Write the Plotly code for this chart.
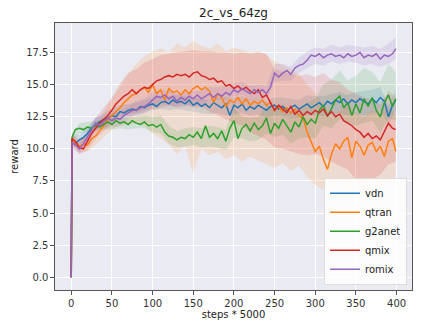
import plotly.graph_objects as go

# x: training steps (in units of 5000 env steps)
steps = [0, 1] + list(range(5, 400, 5)) + [399]
band_steps = [0, 1] + list(range(10, 400, 10)) + [399]

# mean reward per algorithm
vdn = [0, 10.6,
       10.4, 10.7, 10.9, 11.2, 11.6, 11.9, 12.1, 12.3, 12.4, 12.6,
       12.5, 12.9, 12.8, 13.0, 13.1, 13.0, 13.3, 13.2, 13.4, 13.5,
       13.3, 13.6, 13.7, 13.5, 13.8, 13.6, 13.7, 13.5, 13.8, 13.4,
       13.6, 13.3, 13.5, 13.2, 13.6, 13.4, 13.2, 13.5, 12.6, 13.4,
       13.2, 13.5, 13.0, 13.3, 13.1, 13.4, 13.2, 13.0, 13.3, 13.4,
       13.1, 13.3, 13.0, 13.2, 13.4, 13.1, 13.3, 13.5, 13.2, 13.4,
       13.6, 13.3, 13.7, 13.5, 13.8, 13.6, 13.9, 13.5, 13.8, 13.6,
       13.9, 13.7, 13.5, 13.9, 13.6, 14.0, 13.7, 12.5, 13.4,
       13.8]
qtran = [0, 10.6,
         10.5, 10.2, 10.4, 10.3, 10.8, 11.0, 11.4, 11.8, 12.3, 12.6,
         12.9, 13.2, 13.6, 13.9, 14.2, 14.3, 14.6, 14.8, 14.4, 15.0,
         14.3, 14.6, 13.8, 14.7, 14.4, 14.5, 14.2, 14.6, 14.3, 14.7,
         14.9, 14.6, 14.8, 14.5, 13.6, 14.3, 14.0, 13.3, 13.8, 13.6,
         14.0, 13.5, 13.9, 13.4, 13.7, 13.5, 13.8, 13.4, 13.6, 13.0,
         13.3, 12.9, 13.2, 12.8, 13.1, 12.6, 12.4, 11.3, 10.6, 9.8,
         10.2, 9.2, 8.4, 9.6, 10.4, 10.0, 10.6, 10.9, 9.3, 10.6,
         10.2, 9.5, 10.3, 10.5, 9.8, 10.2, 9.4, 10.6, 10.8,
         9.8]
g2anet = [0, 10.9,
          11.5, 11.6, 11.5, 11.7, 11.6, 11.8, 11.7, 11.9, 12.1, 11.9,
          12.2, 12.0, 12.1, 11.9, 12.2, 12.0, 11.9, 12.1, 11.8, 11.9,
          11.7, 11.9, 11.3, 11.0, 10.9, 10.7, 10.9, 10.8, 11.1, 10.9,
          11.3, 10.8, 11.8, 10.9, 11.2, 10.8, 11.4, 10.6, 11.6, 12.2,
          10.8, 11.6, 11.9, 11.4, 12.0, 11.5, 11.8, 12.4, 11.2, 12.0,
          11.6, 12.3, 11.8, 11.3, 12.1, 11.7, 12.5, 11.9, 12.3, 12.0,
          13.0, 13.4, 12.5, 13.1, 13.8, 14.1, 13.2, 13.6, 12.6, 13.5,
          12.8, 13.9, 13.3, 14.0, 13.0, 12.5, 13.6, 14.2, 13.3,
          13.9]
qmix = [0, 10.8,
        10.6, 10.1, 10.0, 10.6, 11.2, 11.6, 12.0, 12.3, 12.6, 13.0,
        13.5, 13.8, 14.1, 14.3, 14.6, 14.3, 14.6, 14.8, 14.7, 15.0,
        15.3, 15.4, 15.6, 15.7, 15.6, 15.8, 15.7, 15.8, 15.6, 15.9,
        16.0, 15.7, 15.6, 15.4, 15.5, 15.2, 15.3, 14.9, 15.0, 14.7,
        14.9, 14.6, 14.8, 14.5, 14.3, 14.6, 14.0, 14.2, 13.6, 13.0,
        13.4, 13.1, 12.8, 13.3, 12.7, 13.0, 12.6, 12.9, 12.7, 13.0,
        12.8, 13.1, 12.6, 12.9, 12.5, 12.7, 12.2, 12.0, 11.8, 11.5,
        11.3, 10.9, 11.2, 10.8, 11.0, 10.7, 11.3, 12.0, 11.6,
        11.5]
romix = [0, 10.5,
         10.3, 10.0, 10.4, 10.9, 11.5, 12.0, 11.8, 12.1, 12.4, 12.2,
         12.4, 12.3, 12.6, 12.8, 13.0, 13.0, 13.2, 13.3, 13.5, 13.8,
         14.1, 14.0, 14.2, 13.9, 14.1, 13.7, 14.0, 13.8, 14.1, 13.9,
         14.2, 13.9, 14.1, 14.3, 14.0, 14.3, 14.1, 14.4, 14.2, 14.6,
         14.4, 14.7, 14.5, 14.3, 14.6, 14.4, 14.6, 14.3, 14.8, 15.9,
         15.6, 15.9, 16.1, 15.8, 16.3, 16.5, 16.6, 16.9, 17.3, 17.2,
         17.4, 17.1, 17.3, 17.4, 17.2, 17.3, 17.1, 17.4, 17.2, 17.3,
         17.5, 17.1, 17.3, 17.2, 17.4, 17.0, 17.3, 17.2, 17.4,
         17.8]

# shaded band edges (min / max over runs)
vdn_lo = [0, 10.2,
          10.3, 10.7, 11.4, 11.8, 12.1, 12.4, 12.5, 12.6, 12.8, 13.0,
          13.1, 13.0, 13.1, 13.0, 12.9, 12.8, 12.7, 12.8, 12.6, 12.7,
          12.8, 12.6, 12.7, 12.4, 12.6, 12.5, 12.4, 12.4, 12.6, 12.6,
          12.5, 12.7, 12.8, 12.6, 12.7, 12.6, 12.8, 12.9, 11.9,
          12.9]
vdn_hi = [0, 11.0,
          11.1, 11.7, 12.4, 12.8, 13.1, 13.4, 13.5, 13.6, 13.8, 14.0,
          14.1, 14.1, 14.2, 14.1, 14.0, 13.9, 13.8, 14.0, 14.0, 14.0,
          14.1, 13.9, 14.0, 13.7, 14.0, 14.0, 13.9, 13.8, 14.2, 14.1,
          14.1, 14.3, 14.4, 14.2, 14.4, 14.5, 14.6, 14.8, 13.4,
          14.6]
qtran_lo = [0, 10.2,
            9.7, 9.8, 10.3, 10.9, 11.5, 11.8, 11.9, 12.0, 11.8, 11.2,
            10.8, 10.3, 9.6, 10.2, 8.1, 10.0, 9.5, 9.8, 9.2, 9.5,
            9.0, 9.4, 9.1, 8.8, 8.5, 8.9, 8.3, 8.7, 7.8, 7.2,
            6.8, 7.0, 7.6, 6.4, 7.3, 6.5, 7.4, 6.9, 7.5,
            7.8]
qtran_hi = [0, 11.0,
            10.8, 10.9, 11.8, 12.9, 13.9, 14.8, 15.8, 16.6, 17.2, 17.6,
            17.8, 17.5, 18.2, 17.9, 18.4, 18.0, 17.8, 18.2, 17.6, 17.9,
            17.7, 17.5, 17.6, 17.3, 16.8, 16.5, 16.2, 15.8, 15.0, 14.3,
            13.5, 12.6, 13.0, 13.4, 12.8, 12.5, 13.0, 12.7, 13.2,
            12.6]
g2anet_lo = [0, 10.6,
             11.2, 11.3, 11.4, 11.5, 11.5, 11.6, 11.5, 11.6, 11.6, 11.3,
             11.2, 10.4, 10.1, 10.2, 10.3, 10.1, 10.2, 10.1, 9.9, 10.9,
             10.8, 10.6, 10.7, 11.2, 10.9, 11.1, 10.4, 10.8, 10.9, 10.8,
             11.8, 11.6, 12.3, 11.9, 11.8, 12.0, 12.2, 11.3, 12.4,
             12.2]
g2anet_hi = [0, 11.2,
             12.0, 12.1, 12.2, 12.3, 12.4, 12.4, 12.4, 12.5, 12.6, 12.5,
             12.6, 11.8, 11.4, 11.6, 11.7, 11.6, 11.8, 11.7, 11.5, 13.2,
             12.5, 12.4, 12.5, 13.4, 13.2, 13.5, 12.9, 13.2, 13.6, 13.9,
             15.0, 15.4, 16.1, 15.3, 15.7, 16.3, 16.0, 15.2, 16.6,
             16.0]
qmix_lo = [0, 10.4,
           9.6, 9.9, 10.8, 11.4, 12.0, 12.5, 12.7, 12.8, 13.0, 13.1,
           13.2, 13.4, 13.3, 13.5, 13.2, 13.3, 12.9, 12.6, 12.3, 12.0,
           11.8, 11.3, 11.0, 10.7, 10.1, 10.0, 9.8, 9.6, 9.5, 9.6,
           9.4, 9.0, 8.7, 8.4, 7.6, 7.4, 7.6, 8.0, 8.8,
           9.0]
qmix_hi = [0, 11.2,
           10.6, 11.3, 12.4, 13.2, 14.0, 15.1, 15.9, 16.2, 16.7, 17.0,
           17.3, 17.4, 17.5, 17.6, 17.7, 17.6, 17.6, 17.5, 17.5, 17.4,
           17.5, 17.4, 17.5, 17.4, 16.2, 16.0, 15.8, 15.7, 15.8, 15.6,
           15.9, 15.4, 15.2, 14.6, 14.3, 14.0, 13.8, 13.5, 14.5,
           14.0]
romix_lo = [0, 10.1,
            9.6, 10.4, 11.5, 11.6, 11.7, 11.8, 12.3, 12.7, 12.8, 13.3,
            13.5, 13.4, 13.2, 13.3, 13.4, 13.4, 13.8, 13.8, 13.9, 14.1,
            14.2, 13.9, 14.0, 13.8, 15.2, 15.3, 15.3, 15.9, 16.3, 16.6,
            16.5, 16.8, 16.6, 16.8, 16.7, 16.5, 16.6, 16.4, 16.6,
            17.0]
romix_hi = [0, 10.9,
            10.4, 11.4, 12.5, 12.6, 12.8, 12.9, 13.3, 13.7, 13.9, 14.4,
            14.6, 14.5, 14.3, 14.4, 14.5, 14.5, 14.8, 14.8, 14.9, 15.1,
            15.2, 14.9, 15.0, 14.9, 16.6, 16.6, 16.4, 17.1, 17.6, 17.9,
            17.8, 18.1, 17.9, 18.1, 18.0, 17.9, 18.0, 17.8, 18.2,
            18.7]

series = [
    ("vdn", vdn, vdn_lo, vdn_hi, (31, 119, 180)),
    ("qtran", qtran, qtran_lo, qtran_hi, (255, 127, 14)),
    ("g2anet", g2anet, g2anet_lo, g2anet_hi, (44, 160, 44)),
    ("qmix", qmix, qmix_lo, qmix_hi, (214, 39, 40)),
    ("romix", romix, romix_lo, romix_hi, (148, 103, 189)),
]

for name, m, lo, hi, c in series:
    assert len(m) == len(steps), name
    assert len(lo) == len(band_steps) and len(hi) == len(band_steps), name

fig = go.Figure()

# bands first
for name, m, lo, hi, c in series:
    fig.add_trace(go.Scatter(
        x=band_steps + band_steps[::-1],
        y=hi + lo[::-1],
        fill="toself",
        fillcolor="rgba(%d,%d,%d,0.15)" % c,
        line=dict(width=0),
        mode="lines",
        hoverinfo="skip",
        showlegend=False))

for name, m, lo, hi, c in series:
    fig.add_trace(go.Scatter(
        x=steps, y=m, name=name, mode="lines",
        line=dict(color="rgb(%d,%d,%d)" % c, width=1.5)))

axis_common = dict(
    showgrid=True, gridcolor="white", gridwidth=1,
    showline=True, linecolor="#555555", linewidth=1.2, mirror=True,
    ticks="outside", ticklen=3.5, tickcolor="#555555",
    zeroline=False, automargin=False,
    tickfont=dict(size=10, color="#333333"),
)

fig.update_xaxes(range=[-19.95, 418.95], tickvals=list(range(0, 401, 50)),
                 title=dict(text="steps * 5000", font=dict(size=10, color="#222222"), standoff=3),
                 **axis_common)
fig.update_yaxes(range=[-0.99, 19.8], tickvals=[0, 2.5, 5, 7.5, 10, 12.5, 15, 17.5],
                 tickformat=".1f",
                 title=dict(text="reward", font=dict(size=10, color="#222222"), standoff=5),
                 **axis_common)

fig.update_layout(
    width=424, height=324,
    margin=dict(l=55, r=12, t=23, b=34),
    paper_bgcolor="white",
    plot_bgcolor="#EAEAF2",
    font=dict(family="DejaVu Sans", size=10, color="#222222"),
    title=dict(text="2c_vs_64zg", x=0.5, xref="paper", xanchor="center", y=1 - 13 / 324, yanchor="middle",
               yref="container", font=dict(size=12, color="#222222")),
    legend=dict(x=0.986, y=0.02, xanchor="right", yanchor="bottom",
                bgcolor="rgba(255,255,255,0.85)", bordercolor="#dddddd", borderwidth=1,
                font=dict(size=10), itemwidth=30, tracegroupgap=0),
    showlegend=True,
)

# drop the default 8px body margin so the figure fills the window exactly
fig.write_html("out.html", config={"displayModeBar": False},
               post_script="document.body.style.margin='0';")
